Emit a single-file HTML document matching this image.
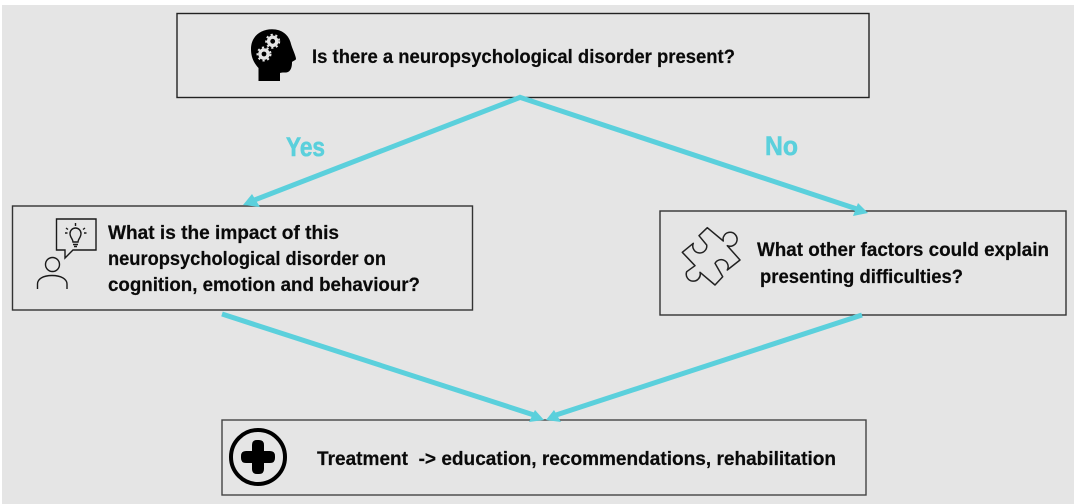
<!DOCTYPE html>
<html><head><meta charset="utf-8"><style>
html,body{margin:0;padding:0;background:#fff}
svg{display:block}
text{font-family:"Liberation Sans",sans-serif;font-weight:bold;fill:#0a0a0a;font-size:19px;stroke:#0a0a0a;stroke-width:.2px}
</style></head><body>
<svg width="1076" height="504" viewBox="0 0 1076 504" xmlns="http://www.w3.org/2000/svg">
<rect x="2" y="5" width="1072" height="499" fill="#e5e5e5"/>
<g fill="none" stroke="#222" stroke-width="1.4">
<rect x="177" y="13.500" width="692" height="84"/>
<rect x="12.500" y="206" width="460" height="104" stroke="#333"/>
<rect x="660" y="211" width="406" height="104" stroke="#333"/>
<rect x="222" y="420" width="644" height="75" stroke="#444"/>
</g>
<g stroke="#5bd0dc" stroke-width="5" fill="none">
<line x1="521" y1="97" x2="252" y2="201"/>
<line x1="519" y1="97" x2="860" y2="210"/>
<line x1="222" y1="314" x2="537" y2="416"/>
<line x1="862" y1="315" x2="553" y2="416"/>
</g>
<g fill="#5bd0dc">
<polygon points="243,205 252,194 260,207"/>
<polygon points="868,213 858,203 853,216"/>
<polygon points="544,420 535,410 529,422"/>
<polygon points="546,420 554,410 561,422"/>
</g>
<!-- head icon -->
<path fill="#000" d="M258.500,81 V68 C253,62 251,56 251,49 C251,37 260,29.300 272,29.300 C282,29.300 289,35 291,44 C292,48 296,56 296,59 C296,60 293,61 292,62 C292,64 292,70 288,72 C286,73 282,72 280,73 V81 Z"/>
<g fill="#e5e5e5"><circle cx="272.700" cy="41.300" r="5.800"/><circle cx="264" cy="54" r="5.800"/></g>
<g fill="#000"><circle cx="272.700" cy="41.300" r="2.400"/><circle cx="264" cy="54" r="2.400"/></g>
<g stroke="#e5e5e5" stroke-width="1.800" fill="none" stroke-dasharray="2.200 2.600"><circle cx="272.700" cy="41.300" r="6.600"/><circle cx="264" cy="54" r="6.600"/></g>
<!-- person with bubble -->
<g fill="none" stroke="#1a1a1a" stroke-width="1.400">
<path d="M56.500,219 H96 V250 H73 L65,258 V250 H56.500 Z"/>
<circle cx="52.500" cy="264.500" r="7"/>
<path d="M37.500,289 V284 C37.500,279 43,275.500 52,275.500 C61,275.500 67,279 67,284 V289"/>
<path d="M73,242 C73,239 70,237.500 70,233.500 A5.500,5.500 0 0 1 81,233.500 C81,237.500 78,239 78,242 Z"/>
<path d="M73,244.500 H78 M74,246.500 H77"/>
<path d="M75.500,223 V226 M66,228 L68,229.500 M85,228 L83,229.500 M65,233 H67.500 M84,233 H86.500"/>
</g>
<!-- puzzle -->
<path fill="none" stroke="#222" stroke-width="1.500" stroke-linejoin="round" d="M707.300,227.700 L723.300,241 A7,7 0 1 1 727.300,245.700 L740,260 L727.300,270 A7,7 0 1 0 715,263.300 L722.700,276.700 L715,285 L700,272.300 A7,7 0 1 1 686.700,271.700 L695,265.700 L682.300,252.300 L693.300,243.300 A7,7 0 1 0 706.700,245 L699,235.700 Z"/>
<!-- plus -->
<circle cx="258" cy="457" r="27" fill="none" stroke="#000" stroke-width="4"/>
<path fill="#000" d="M252,445 Q252,440 257,440 H259 Q264,440 264,445 V451 H270 Q275,451 275,456 V458 Q275,463 270,463 H264 V469 Q264,474 259,474 H257 Q252,474 252,469 V463 H246 Q241,463 241,458 V456 Q241,451 246,451 H252 Z"/>
<text x="312" y="63" textLength="423" lengthAdjust="spacingAndGlyphs">Is there a neuropsychological disorder present?</text>
<text x="108" y="239" textLength="231" lengthAdjust="spacingAndGlyphs">What is the impact of this</text>
<text x="108" y="265" textLength="278" lengthAdjust="spacingAndGlyphs">neuropsychological disorder on</text>
<text x="108" y="291" textLength="312" lengthAdjust="spacingAndGlyphs">cognition, emotion and behaviour?</text>
<text x="757" y="256" textLength="292" lengthAdjust="spacingAndGlyphs">What other factors could explain</text>
<text x="760" y="283" textLength="203" lengthAdjust="spacingAndGlyphs">presenting difficulties?</text>
<text x="317" y="465" textLength="519" lengthAdjust="spacingAndGlyphs" xml:space="preserve">Treatment  -&gt; education, recommendations, rehabilitation</text>
<text x="286" y="156" textLength="39" lengthAdjust="spacingAndGlyphs" style="font-size:27px;fill:#5bd0dc;stroke:#5bd0dc;stroke-width:.6px">Yes</text>
<text x="765" y="155" textLength="33" lengthAdjust="spacingAndGlyphs" style="font-size:27px;fill:#5bd0dc;stroke:#5bd0dc;stroke-width:.6px">No</text>
</svg>
</body></html>
